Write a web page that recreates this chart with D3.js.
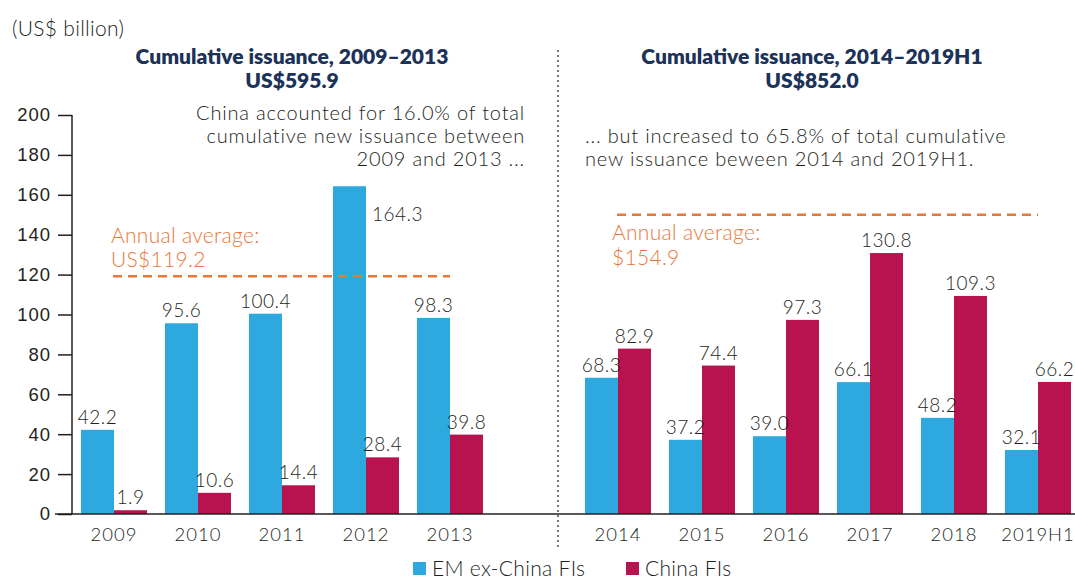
<!DOCTYPE html>
<html lang="en">
<head>
  <meta charset="UTF-8">
  <title>Cumulative issuance</title>
  <style>
    body { margin: 0; background: #fff; }
    svg { display: block; font-family: Lato, "Open Sans", sans-serif; }
    .tick-label { font-size: 18.5px; fill: #231f20; font-weight: 300; letter-spacing: 1px; }
    .val { font-size: 19px; fill: #231f20; font-weight: 300; letter-spacing: 0.5px; }
    .title { font-size: 21px; font-weight: 800; fill: #1b3259; text-anchor: middle; }
    .note { font-size: 20px; fill: #231f20; font-weight: 300; letter-spacing: 0.8px; }
    .avg { font-size: 21px; fill: #e8783a; font-weight: 300; letter-spacing: 0.3px; }
  </style>
</head>
<body>
  <svg id="chart"></svg>
  <script src="https://d3js.org/d3.v7.min.js"></script>
  <script>
    const width = 1075, height = 580;

    const periodA = ["2009", "2010", "2011", "2012", "2013"];
    const periodB = ["2014", "2015", "2016", "2017", "2018", "2019H1"];
    const emExChina = [42.2, 95.6, 100.4, 164.3, 98.3, 68.3, 37.2, 39.0, 66.1, 48.2, 32.1];
    const chinaFIs = [1.9, 10.6, 14.4, 28.4, 39.8, 82.9, 74.4, 97.3, 130.8, 109.3, 66.2];
    const yTicks = [0, 20, 40, 60, 80, 100, 120, 140, 160, 180, 200];
    const avgLabels = ["US$119.2", "$154.9"];
    const avgLevels = [119.2, 150.0];
    const seriesNames = ["EM ex-China FIs", "China FIs"];
    const colors = ["#2ea9e0", "#b8134f"];

    const categories = periodA.concat(periodB);
    const spacer = "gap";

    const svg = d3.select("#chart").attr("width", width).attr("height", height);

    const x = d3.scaleBand()
      .domain(periodA.concat([spacer], periodB))
      .range([72, 1080])
      .padding(0);
    const barW = 33;
    const pad = (x.bandwidth() - 2 * barW) / 2;
    const cx = c => x(c) + x.bandwidth() / 2;

    const y = d3.scaleLinear().domain([0, 200]).range([514, 115]);

    // y axis
    const yAxis = svg.append("g")
      .attr("transform", "translate(72,0)")
      .call(d3.axisLeft(y).tickValues(yTicks).tickSize(14).tickPadding(7));
    yAxis.select(".domain").attr("stroke", "#231f20").attr("stroke-width", 1.5)
      .attr("d", `M0,${y(200)}V${y(0)}`);
    yAxis.selectAll(".tick line").attr("stroke", "#231f20").attr("stroke-width", 1.5);
    yAxis.selectAll(".tick text").attr("class", "tick-label").attr("font-family", null).attr("font-size", null);

    // bars
    const rows = categories.map((c, i) => ({ c, a: emExChina[i], b: chinaFIs[i] }));
    const g = svg.append("g");
    g.selectAll(".bar-a").data(rows).enter().append("rect")
      .attr("x", d => x(d.c) + pad).attr("width", barW)
      .attr("y", d => y(d.a)).attr("height", d => y(0) - y(d.a))
      .attr("fill", colors[0]);
    g.selectAll(".bar-b").data(rows).enter().append("rect")
      .attr("x", d => x(d.c) + pad + barW).attr("width", barW)
      .attr("y", d => y(d.b)).attr("height", d => y(0) - y(d.b))
      .attr("fill", colors[1]);

    // value labels (the tallest bar gets its label beside it)
    g.selectAll(".lab-a").data(rows).enter().append("text")
      .attr("class", "val")
      .attr("x", d => d.a > 150 ? x(d.c) + pad + barW + 6 : x(d.c) + pad + barW / 2)
      .attr("y", d => d.a > 150 ? y(d.a) + 35 : y(d.a) - 6)
      .style("text-anchor", d => d.a > 150 ? "start" : "middle")
      .text(d => d.a.toFixed(1));
    g.selectAll(".lab-b").data(rows).enter().append("text")
      .attr("class", "val")
      .attr("x", d => x(d.c) + pad + barW * 1.5)
      .attr("y", d => y(d.b) - 6)
      .style("text-anchor", "middle")
      .text(d => d.b.toFixed(1));

    // baseline
    svg.append("line")
      .attr("x1", 55).attr("x2", width).attr("y1", y(0)).attr("y2", y(0))
      .attr("stroke", "#231f20").attr("stroke-width", 1.5);

    // x labels
    svg.append("g").selectAll("text").data(categories).enter().append("text")
      .attr("class", "tick-label")
      .attr("text-anchor", "middle")
      .attr("x", d => cx(d))
      .attr("y", 541)
      .text(d => d);

    // divider
    const divX = x(spacer) + 66;
    svg.append("line")
      .attr("x1", divX).attr("x2", divX).attr("y1", 50).attr("y2", 550)
      .attr("stroke", "#231f20").attr("stroke-width", 1.2)
      .attr("stroke-dasharray", "2,3");

    // annual average lines
    const groups = [periodA, periodB];
    groups.forEach((p, i) => {
      svg.append("line")
        .attr("x1", cx(p[0]) - 1).attr("x2", cx(p[p.length - 1]))
        .attr("y1", y(avgLevels[i])).attr("y2", y(avgLevels[i]))
        .attr("stroke", "#e8783a").attr("stroke-width", 2.5)
        .attr("stroke-dasharray", "9,6");
    });
    const avgText = [
      { x: cx(periodA[0]) - 3, y1: 243, y2: 267 },
      { x: cx(periodB[0]) - 6, y1: 240, y2: 265 }
    ];
    avgText.forEach((t, i) => {
      const tx = svg.append("text").attr("class", "avg");
      tx.append("tspan").attr("x", t.x).attr("y", t.y1).text("Annual average:");
      tx.append("tspan").attr("x", t.x).attr("y", t.y2).text(avgLabels[i]);
    });

    // titles
    svg.append("text").attr("x", 12).attr("y", 36)
      .attr("class", "note").style("font-size", "21px").style("letter-spacing", "0.3px")
      .text("(US$ billion)");
    [[292, "Cumulative issuance, 2009–2013", "US$595.9"],
     [812, "Cumulative issuance, 2014–2019H1", "US$852.0"]].forEach(([tx, a, b]) => {
      svg.append("text").attr("class", "title").attr("x", tx).attr("y", 64).text(a);
      svg.append("text").attr("class", "title").attr("x", tx).attr("y", 88).text(b);
    });

    // notes
    const noteA = ["China accounted for 16.0% of total", "cumulative new issuance between", "2009 and 2013 ..."];
    noteA.forEach((s, i) => svg.append("text").attr("class", "note")
      .attr("text-anchor", "end").attr("x", 525).attr("y", 120 + i * 23).text(s));
    const noteB = ["... but increased to 65.8% of total cumulative", "new issuance beween 2014 and 2019H1."];
    noteB.forEach((s, i) => svg.append("text").attr("class", "note")
      .attr("x", 585).attr("y", 143 + i * 23).text(s));

    // legend
    const legend = svg.append("g");
    [[413, 0], [626, 1]].forEach(([lx, i]) => {
      legend.append("rect").attr("x", lx).attr("y", 562).attr("width", 13).attr("height", 13)
        .attr("fill", colors[i]);
      legend.append("text").attr("class", "note").style("font-size", "21px").style("letter-spacing", "0.3px")
        .attr("x", lx + 19).attr("y", 576)
        .text(seriesNames[i]);
    });
  </script>
</body>
</html>
